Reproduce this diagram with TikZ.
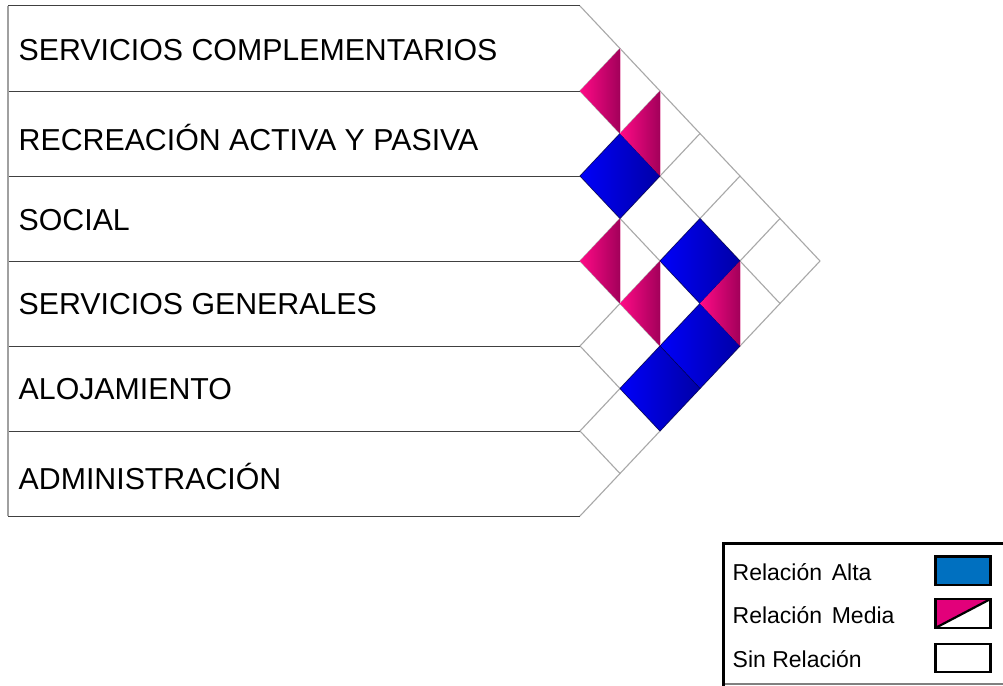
\documentclass[tikz,border=0pt]{standalone}
\usepackage{fontspec}
\setmainfont{Liberation Sans}
\definecolor{gridgray}{HTML}{A8A8A8}
\definecolor{rowline}{HTML}{404040}
\definecolor{leftgray}{HTML}{A0A0A0}
\definecolor{bluehi}{HTML}{0000FA}
\definecolor{bluelo}{HTML}{0000A6}
\definecolor{pinkhi}{HTML}{FF0A86}
\definecolor{pinklo}{HTML}{A2005A}
\definecolor{pinkedge}{HTML}{F0B0D0}
\definecolor{legblue}{HTML}{0070C0}
\definecolor{legpink}{HTML}{E2007A}
\definecolor{legbottom}{HTML}{808080}
\tikzset{
  gridline/.style={draw=gridgray, line width=1.1pt},
  rowsep/.style={draw=rowline, line width=1pt},
  rowlabel/.style={anchor=base west, inner sep=0pt, font=\fontsize{30.3}{34}\selectfont},
  leglabel/.style={anchor=base west, inner sep=0pt, font=\fontsize{23}{26}\selectfont},
  swatch/.style={draw=black, line width=2.6pt},
  altacell/.style={left color=bluehi, right color=bluelo, draw=bluelo!55!black, line width=0.5pt},
  mediacell/.style={left color=pinkhi, right color=pinklo},
}
\begin{document}
\begin{tikzpicture}[x=1pt,y=-1pt]
\useasboundingbox (0,0) rectangle (1003,685);
\fill[white] (0,0) rectangle (1003,685);
% row boundary points
\foreach \k in {0,...,6} {
  \coordinate (b\k) at (580,{6+85*\k});
  \coordinate (l\k) at (8,{6+85*\k});
}
\coordinate (apex) at (820,261);
% grid lines of the relation matrix
\foreach \k in {0,...,6} {
  \coordinate (dn\k) at ({580+40*(6-\k)},{(6+85*\k+516)/2});
  \coordinate (up\k) at ({580+40*\k},{(6+6+85*\k)/2});
  \draw[gridline] (b\k) -- (dn\k);
  \draw[gridline] (b\k) -- (up\k);
}
% high relation cells
\foreach \i/\j in {1/2,1/4,2/5,3/5} {
  \pgfmathsetmacro\cx{580+40*(\j-\i)}
  \pgfmathsetmacro\cy{48.5+42.5*(\i+\j)}
  \shadedraw[altacell] (\cx-40,\cy) -- (\cx,\cy-42.5) -- (\cx+40,\cy) -- (\cx,\cy+42.5) -- cycle;
}
% medium relation cells
\foreach \i/\j in {0/1,0/2,2/3,2/4,1/5} {
  \pgfmathsetmacro\cx{580+40*(\j-\i)}
  \pgfmathsetmacro\cy{48.5+42.5*(\i+\j)}
  \shade[mediacell] (\cx-40,\cy) -- (\cx,\cy-42.5) -- (\cx,\cy+42.5) -- cycle;
  \draw[pinkedge, line width=1.2pt] (\cx+0.6,\cy-41.5) -- (\cx+0.6,\cy+41.5);
}
% row boxes
\foreach \k in {0,...,6} {
  \draw[rowsep] (l\k) -- (b\k);
}
\draw[draw=leftgray, line width=1.6pt] (l0) -- (l6);
% row labels
\node[rowlabel] (r0) at (18.5,60.6) {SERVICIOS COMPLEMENTARIOS};
\node[rowlabel] (r1) at (18.5,150.6) {RECREACIÓN ACTIVA Y PASIVA};
\node[rowlabel] (r2) at (18.5,230.3) {SOCIAL};
\node[rowlabel] (r3) at (18.5,314.6) {SERVICIOS GENERALES};
\node[rowlabel] (r4) at (18.5,399.6) {ALOJAMIENTO};
\node[rowlabel] (r5) at (18.5,489.6) {ADMINISTRACIÓN};
% legend
\coordinate (gtl) at (723,543);
\coordinate (gtr) at (1010,543);
\coordinate (gbl) at (723,684);
\coordinate (gbr) at (1010,684);
\draw[line width=1.4pt, legbottom] (gbl) -- (gbr);
\draw[line width=3pt, line cap=rect] (gtr) -- (gtl) -- (gbl);
\node[leglabel] (la) at (732.5,580) {Relación\hspace{0.42em}Alta};
\node[leglabel] (lm) at (732.5,623) {Relación\hspace{0.42em}Media};
\node[leglabel] (ls) at (732.5,667) {Sin Relación};
\draw[swatch, fill=legblue] (935.3,556.5) rectangle (990.5,585);
\fill[legpink] (935.3,599) -- (990.5,599) -- (935.3,628) -- cycle;
\draw[swatch] (935.3,599) rectangle (990.5,628);
\draw[line width=2.2pt] (935.3,628) -- (990.5,599);
\draw[swatch, fill=white] (935.3,644) rectangle (990.5,672);
\end{tikzpicture}
\end{document}
